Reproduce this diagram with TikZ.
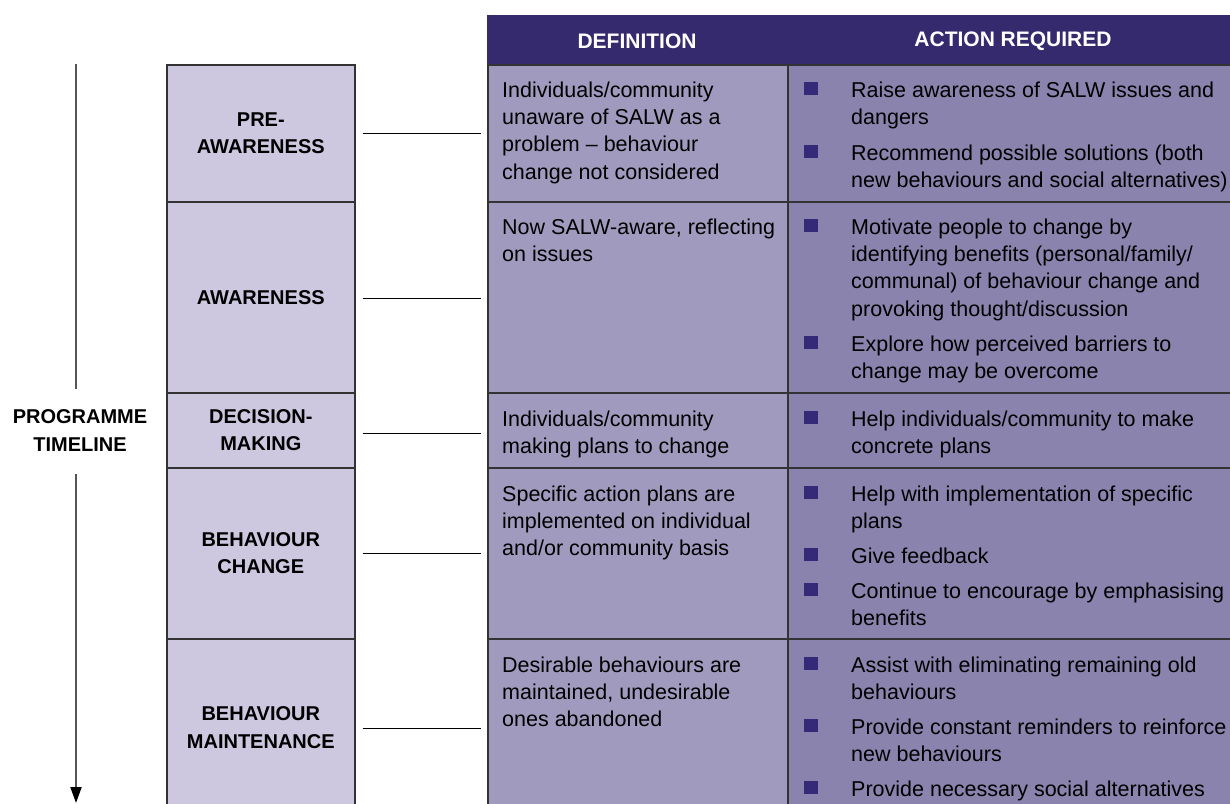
\documentclass[tikz,border=0pt]{standalone}
\usepackage{fontspec}
\setmainfont{Liberation Sans}
\usetikzlibrary{arrows.meta}
\definecolor{hdr}{HTML}{362A6E}
\definecolor{defc}{HTML}{A09BBE}
\definecolor{actc}{HTML}{8983AD}
\definecolor{stagec}{HTML}{CDC8E0}
\definecolor{bul}{HTML}{352A78}
\definecolor{rulec}{HTML}{333333}
\definecolor{tlc}{HTML}{555555}
\begin{document}
\begin{tikzpicture}[x=1pt,y=-1pt,
  stagebox/.style={draw=rulec, line width=1.6pt, fill=stagec, minimum width=188pt, inner sep=0pt,
    font=\fontsize{20}{27.5}\selectfont\bfseries, align=center, anchor=north west},
  defcell/.style={draw=rulec, line width=1.5pt, fill=defc, minimum width=300pt, inner sep=0pt, anchor=north west},
  actcell/.style={draw=rulec, line width=1.5pt, fill=actc, minimum width=460pt, inner sep=0pt, anchor=north west},
  bodytext/.style={anchor=north west, inner sep=0pt, align=left, font=\fontsize{21.5}{27.4}\selectfont},
  bulletsq/.style={fill=bul, minimum width=13.5pt, minimum height=13pt, inner sep=0pt, yshift=1pt},
  hdrtext/.style={text=white, font=\fontsize{21}{25}\selectfont\bfseries},
  conn/.style={draw=black, line width=1.3pt, shorten <=7pt, shorten >=6pt},
  tline/.style={draw=tlc, line width=2pt}
]
\useasboundingbox (0,0) rectangle (1230,803);
\clip (0,0) rectangle (1230,803);

% header
\node[fill=hdr, minimum width=760pt, minimum height=49pt, inner sep=0pt, anchor=north west] (hd) at (487,15) {};
\node[hdrtext] (hdef) at (637,41.5) {DEFINITION};
\node[hdrtext] (hact) at (1013,41.5) {ACTION REQUIRED};

% stage column
\node[stagebox, minimum height=137pt] (s1) at (166,64) {PRE-\\AWARENESS};
\node[stagebox, minimum height=191pt] (s2) at (166,201) {AWARENESS};
\node[stagebox, minimum height=75pt] (s3) at (166,392) {DECISION-\\MAKING};
\node[stagebox, minimum height=171pt] (s4) at (166,467) {BEHAVIOUR\\CHANGE};
\node[stagebox, minimum height=178pt] (s5) at (166,638) {BEHAVIOUR\\MAINTENANCE};

% definition cells
\node[defcell, minimum height=137pt] (d1) at (487,64) {};
\node[defcell, minimum height=191pt] (d2) at (487,201) {};
\node[defcell, minimum height=75pt] (d3) at (487,392) {};
\node[defcell, minimum height=171pt] (d4) at (487,467) {};
\node[defcell, minimum height=200pt] (d5) at (487,638) {};

% action cells
\node[actcell, minimum height=137pt] (a1) at (787,64) {};
\node[actcell, minimum height=191pt] (a2) at (787,201) {};
\node[actcell, minimum height=75pt] (a3) at (787,392) {};
\node[actcell, minimum height=171pt] (a4) at (787,467) {};
\node[actcell, minimum height=200pt] (a5) at (787,638) {};

% connectors
\draw[conn] (s1.east) -- (d1.west |- s1.east);
\draw[conn] ([yshift=-1.5pt]s2.east) -- ([yshift=-1.5pt]d2.west |- s2.east);
\draw[conn] ([yshift=-3.5pt]s3.east) -- ([yshift=-3.5pt]d3.west |- s3.east);
\draw[conn] (s4.east) -- (d4.west |- s4.east);
\draw[conn] ([yshift=-1pt]s5.east) -- ([yshift=-1pt]d5.west |- s5.east);

% definition texts
\node[bodytext] (dt1) at (502,77.8) {\strut Individuals/community\\unaware of SALW as a\\problem -- behaviour\\change not considered};
\node[bodytext] (dt2) at (502,214.8) {\strut Now SALW-aware, reflecting\\on issues};
\node[bodytext] (dt3) at (502,406.8) {\strut Individuals/community\\making plans to change};
\node[bodytext] (dt4) at (502,481.8) {\strut Specific action plans are\\implemented on individual\\and/or community basis};
\node[bodytext] (dt5) at (502,652.8) {\strut Desirable behaviours are\\maintained, undesirable\\ones abandoned};

% action bullets
\node[bulletsq] (b11) at (811,89) {};
\node[bodytext] (t11) at (851,77.8) {\strut Raise awareness of SALW issues and\\dangers};
\node[bulletsq] (b12) at (811,152) {};
\node[bodytext] (t12) at (851,140.8) {\strut Recommend possible solutions (both\\new behaviours and social alternatives)};

\node[bulletsq] (b21) at (811,226) {};
\node[bodytext] (t21) at (851,214.8) {\strut Motivate people to change by\\identifying benefits (personal/family/\\communal) of behaviour change and\\provoking thought/discussion};
\node[bulletsq] (b22) at (811,343) {};
\node[bodytext] (t22) at (851,331.8) {\strut Explore how perceived barriers to\\change may be overcome};

\node[bulletsq] (b31) at (811,418) {};
\node[bodytext] (t31) at (851,406.8) {\strut Help individuals/community to make\\concrete plans};

\node[bulletsq] (b41) at (811,493) {};
\node[bodytext] (t41) at (851,481.8) {\strut Help with implementation of specific\\plans};
\node[bulletsq] (b42) at (811,555) {};
\node[bodytext] (t42) at (851,543.8) {\strut Give feedback};
\node[bulletsq] (b43) at (811,590) {};
\node[bodytext] (t43) at (851,578.8) {\strut Continue to encourage by emphasising\\benefits};

\node[bulletsq] (b51) at (811,664) {};
\node[bodytext] (t51) at (851,652.8) {\strut Assist with eliminating remaining old\\behaviours};
\node[bulletsq] (b52) at (811,726) {};
\node[bodytext] (t52) at (851,714.8) {\strut Provide constant reminders to reinforce\\new behaviours};
\node[bulletsq] (b53) at (811,788) {};
\node[bodytext] (t53) at (851,776.8) {\strut Provide necessary social alternatives};

% timeline
\node[align=center, inner sep=0pt, font=\fontsize{20}{28.5}\selectfont\bfseries] (tl) at (80,430.5) {PROGRAMME\\TIMELINE};
\coordinate (ttop) at (76,64);
\coordinate (tm1) at (76,389);
\coordinate (tm2) at (76,474);
\coordinate (tbot) at (76,803);
\draw[tline] (ttop) -- (tm1);
\draw[tline, -{Triangle[width=11pt,length=16pt,color=black]}] (tm2) -- (tbot);
\end{tikzpicture}
\end{document}
